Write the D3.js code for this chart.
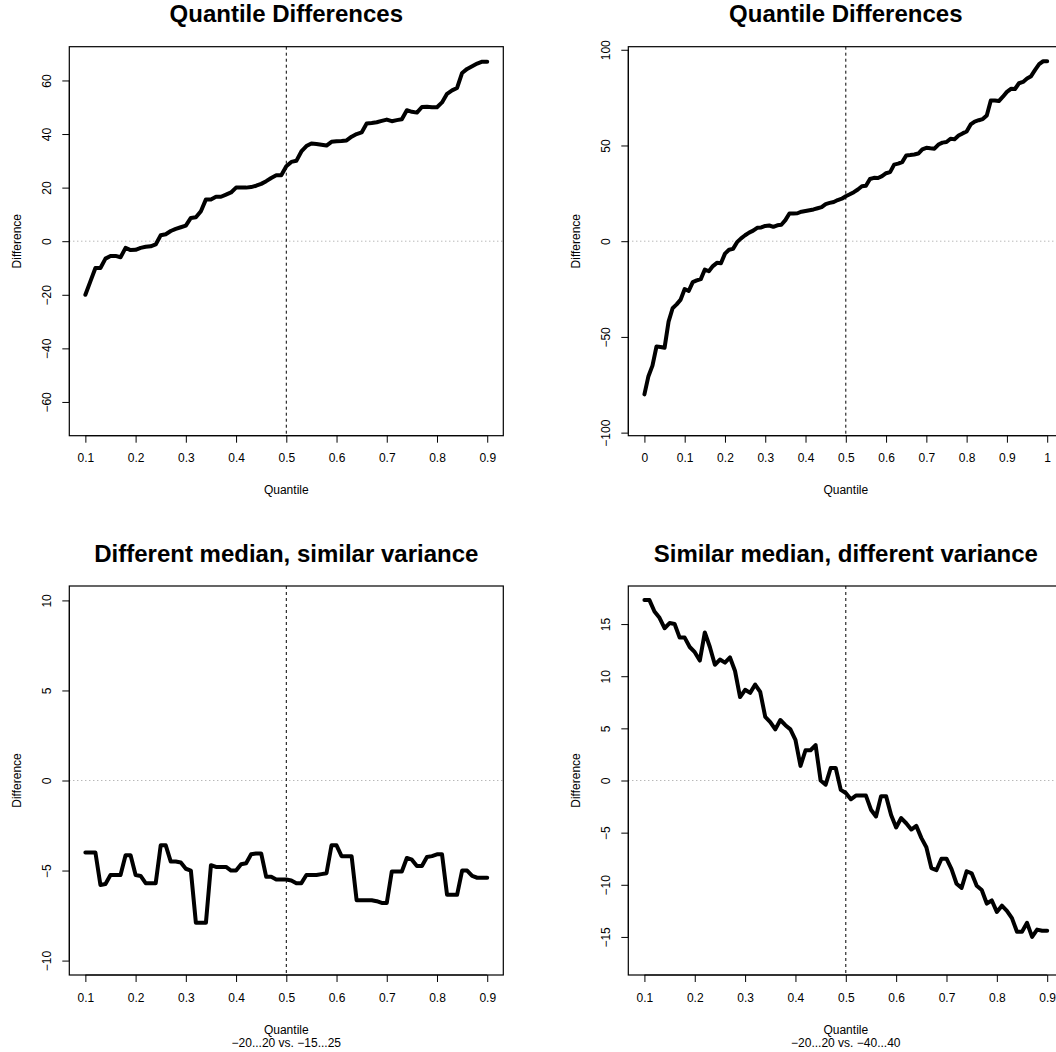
<!DOCTYPE html>
<html>
<head>
<meta charset="utf-8">
<script src="https://cdn.jsdelivr.net/npm/d3@7"></script>
<style>
  html, body { margin: 0; padding: 0; background: #fff; }
  svg { display: block; font-family: "Liberation Sans", Arial, Helvetica, sans-serif; }
</style>
</head>
<body>
<svg id="chart" width="1056" height="1052"></svg>
<script>
// ---------------- DATA ----------------
const quantilesA = [0.10,0.11,0.12,0.13,0.14,0.15,0.16,0.17,0.18,0.19,
  0.20,0.21,0.22,0.23,0.24,0.25,0.26,0.27,0.28,0.29,
  0.30,0.31,0.32,0.33,0.34,0.35,0.36,0.37,0.38,0.39,
  0.40,0.41,0.42,0.43,0.44,0.45,0.46,0.47,0.48,0.49,
  0.50,0.51,0.52,0.53,0.54,0.55,0.56,0.57,0.58,0.59,
  0.60,0.61,0.62,0.63,0.64,0.65,0.66,0.67,0.68,0.69,
  0.70,0.71,0.72,0.73,0.74,0.75,0.76,0.77,0.78,0.79,
  0.80,0.81,0.82,0.83,0.84,0.85,0.86,0.87,0.88,0.89,0.90];

const quantilesB = [0.00,0.01,0.02,0.03,0.04,0.05,0.06,0.07,0.08,0.09,
  0.10,0.11,0.12,0.13,0.14,0.15,0.16,0.17,0.18,0.19,
  0.20,0.21,0.22,0.23,0.24,0.25,0.26,0.27,0.28,0.29,
  0.30,0.31,0.32,0.33,0.34,0.35,0.36,0.37,0.38,0.39,
  0.40,0.41,0.42,0.43,0.44,0.45,0.46,0.47,0.48,0.49,
  0.50,0.51,0.52,0.53,0.54,0.55,0.56,0.57,0.58,0.59,
  0.60,0.61,0.62,0.63,0.64,0.65,0.66,0.67,0.68,0.69,
  0.70,0.71,0.72,0.73,0.74,0.75,0.76,0.77,0.78,0.79,
  0.80,0.81,0.82,0.83,0.84,0.85,0.86,0.87,0.88,0.89,
  0.90,0.91,0.92,0.93,0.94,0.95,0.96,0.97,0.98,0.99,1.00];

const diffTopLeft = [-20,-15,-10,-10,-6.5,-5.5,-5.5,-6,-2.5,-3.3,
  -3.2,-2.5,-2.1,-1.9,-1.2,2.2,2.6,3.8,4.6,5.2,
  5.8,8.7,8.9,11.2,15.6,15.6,16.6,16.6,17.4,18.2,
  20,20,20,20.2,20.7,21.4,22.4,23.6,24.6,24.6,
  28,29.6,30,33.5,35.5,36.5,36.3,36,35.7,37.1,
  37.3,37.4,37.6,39,40,40.6,43.9,44.1,44.4,44.9,
  45.4,44.8,45.2,45.5,48.9,48.3,48,50.1,50.2,50,
  50,51.8,55,56.3,57.2,62.8,64.3,65.3,66.3,67,67];

const diffTopRight = [-80,-70.5,-65,-55,-55.3,-55.7,-42,-35,-33,-30.5,
  -25,-26,-21.4,-20.5,-19.8,-14.8,-15.7,-13,-11.3,-11.5,
  -6.5,-4.5,-4,-0.5,1.5,3.1,4.5,5.5,7,7.2,
  8,8.2,7.5,8.3,8.6,11,14.5,14.5,14.6,15.4,
  15.8,16.2,16.6,17.2,17.8,19.4,20,20.5,21.5,22.2,
  23.5,24.5,25.6,27,28.7,29,32.5,33.1,33,34,
  35.5,36.1,40,40.5,41.3,44.8,45,45.3,45.8,48,
  48.8,48.5,48.3,50.5,51.5,51.8,53.5,53.3,55.2,56.3,
  57.3,61,62.5,63.2,63.8,65.7,73.5,73.5,73.2,75.5,
  78,79.6,79.5,82.5,83.2,85,86.2,89.5,92.5,94,94];

const diffBottomLeft = [-4,-4,-4,-5.8,-5.75,-5.25,-5.25,-5.25,-4.15,-4.15,
  -5.25,-5.3,-5.7,-5.7,-5.7,-3.6,-3.6,-4.5,-4.5,-4.55,
  -4.9,-5.0,-7.9,-7.9,-7.9,-4.7,-4.8,-4.8,-4.8,-5.0,
  -5.0,-4.65,-4.6,-4.1,-4.05,-4.05,-5.35,-5.35,-5.5,-5.5,
  -5.5,-5.55,-5.7,-5.7,-5.25,-5.25,-5.25,-5.2,-5.15,-3.6,
  -3.6,-4.2,-4.2,-4.2,-6.65,-6.65,-6.65,-6.65,-6.7,-6.8,
  -6.8,-5.05,-5.05,-5.05,-4.3,-4.4,-4.75,-4.75,-4.25,-4.2,
  -4.1,-4.1,-6.35,-6.35,-6.35,-5.0,-5.0,-5.3,-5.4,-5.4,-5.4];

const diffBottomRight = [17.3,17.3,16.2,15.6,14.6,15.1,15.0,13.7,13.7,12.8,
  12.3,11.5,14.2,12.8,11.1,11.6,11.3,11.8,10.5,8.0,
  8.7,8.4,9.2,8.5,6.1,5.6,4.9,5.8,5.3,4.9,
  3.9,1.4,2.9,2.9,3.4,0.0,-0.4,1.2,1.2,-0.9,
  -1.2,-1.8,-1.45,-1.45,-1.45,-2.8,-3.45,-1.5,-1.5,-3.3,
  -4.5,-3.6,-4.1,-4.7,-4.35,-5.5,-6.4,-8.4,-8.6,-7.5,
  -7.5,-8.5,-9.9,-10.3,-8.7,-8.9,-10.1,-10.5,-11.8,-11.5,
  -12.6,-12.0,-12.5,-13.2,-14.5,-14.5,-13.65,-15.0,-14.3,-14.4,-14.4];

const xTicksA = [0.1,0.2,0.3,0.4,0.5,0.6,0.7,0.8,0.9];
const xTickLabelsA = ["0.1","0.2","0.3","0.4","0.5","0.6","0.7","0.8","0.9"];
const xTicksB = [0,0.1,0.2,0.3,0.4,0.5,0.6,0.7,0.8,0.9,1];
const xTickLabelsB = ["0","0.1","0.2","0.3","0.4","0.5","0.6","0.7","0.8","0.9","1"];

const yTicksTopLeft = [-60,-40,-20,0,20,40,60];
const yTicksTopRight = [-100,-50,0,50,100];
const yTicksBottomLeft = [-10,-5,0,5,10];
const yTicksBottomRight = [-15,-10,-5,0,5,10,15];

const titles = ["Quantile Differences","Quantile Differences",
  "Different median, similar variance","Similar median, different variance"];
const subtitles = ["", "", "\u221220...20 vs. \u221215...25", "\u221220...20 vs. \u221240...40"];
const xLabel = "Quantile";
const yLabel = "Difference";

// ---------------- LAYOUT ----------------
const panels = [
  { q: quantilesA, v: diffTopLeft, xd: [0.068,0.932], yd: [-72.6,72.6],
    xt: xTicksA, xl: xTickLabelsA, yt: yTicksTopLeft,
    box: { l: 69.3, r: 503.3, t: 46.7, b: 435.7 }, title: titles[0], sub: subtitles[0] },
  { q: quantilesB, v: diffTopRight, xd: [-0.04,1.04], yd: [-101.6,101.6],
    xt: xTicksB, xl: xTickLabelsB, yt: yTicksTopRight,
    box: { l: 628.3, r: 1063.3, t: 46.7, b: 435.7 }, title: titles[1], sub: subtitles[1] },
  { q: quantilesA, v: diffBottomLeft, xd: [0.068,0.932], yd: [-10.8,10.8],
    xt: xTicksA, xl: xTickLabelsA, yt: yTicksBottomLeft,
    box: { l: 69.3, r: 503.3, t: 586, b: 975 }, title: titles[2], sub: subtitles[2] },
  { q: quantilesA, v: diffBottomRight, xd: [0.068,0.932], yd: [-18.65,18.65],
    xt: xTicksA, xl: xTickLabelsA, yt: yTicksBottomRight,
    box: { l: 628.3, r: 1063.3, t: 586, b: 975 }, title: titles[3], sub: subtitles[3] }
];

const svg = d3.select("#chart");
svg.append("rect").attr("width",1056).attr("height",1052).attr("fill","#fff");

const fmtMinus = s => String(s).replace("-", "\u2212");

panels.forEach(p => {
  const b = p.box;
  const x = d3.scaleLinear().domain(p.xd).range([b.l, b.r]);
  const y = d3.scaleLinear().domain(p.yd).range([b.b, b.t]);
  const g = svg.append("g");
  const cx = (b.l + b.r) / 2, cy = (b.t + b.b) / 2;

  // reference lines
  g.append("line")
    .attr("x1", b.l).attr("x2", b.r).attr("y1", y(0)).attr("y2", y(0))
    .attr("stroke", "#9a9a9a").attr("stroke-width", 1).attr("stroke-dasharray", "1,3");
  g.append("line")
    .attr("x1", x(0.5)).attr("x2", x(0.5)).attr("y1", b.t).attr("y2", b.b)
    .attr("stroke", "#000").attr("stroke-width", 1).attr("stroke-dasharray", "3,3");

  // data line
  const line = d3.line().x((d, i) => x(p.q[i])).y(d => y(d));
  g.append("path").datum(p.v)
    .attr("d", line).attr("fill", "none").attr("stroke", "#000")
    .attr("stroke-width", 4).attr("stroke-linejoin", "round").attr("stroke-linecap", "round");

  // box
  g.append("rect").attr("x", b.l).attr("y", b.t)
    .attr("width", b.r - b.l).attr("height", b.b - b.t)
    .attr("fill", "none").attr("stroke", "#000").attr("stroke-width", 1.2);

  // x axis
  const xa = g.append("g").attr("transform", `translate(0,${b.b})`)
    .call(d3.axisBottom(x).tickValues(p.xt).tickFormat((d, i) => p.xl[i])
      .tickSize(7).tickSizeOuter(0).tickPadding(11));
  xa.select(".domain").attr("d", `M${x(p.xt[0])},0H${x(p.xt[p.xt.length-1])}`).attr("stroke","#000");
  xa.selectAll(".tick line").attr("stroke", "#000");
  xa.selectAll("text").attr("font-size", 12).attr("fill", "#000")
    .attr("font-family", "Liberation Sans, Arial, sans-serif");

  // y axis
  const ya = g.append("g").attr("transform", `translate(${b.l},0)`)
    .call(d3.axisLeft(y).tickValues(p.yt).tickFormat(d => fmtMinus(d))
      .tickSize(7).tickSizeOuter(0));
  ya.select(".domain").attr("d", `M0,${y(p.yt[0])}V${y(p.yt[p.yt.length-1])}`).attr("stroke","#000");
  ya.selectAll(".tick line").attr("stroke", "#000");
  ya.selectAll("text")
    .attr("x", null).attr("y", null).attr("dy", "0.35em")
    .attr("text-anchor", "middle")
    .attr("transform", "translate(-22.8,0) rotate(-90)")
    .attr("font-size", 12).attr("fill", "#000")
    .attr("font-family", "Liberation Sans, Arial, sans-serif");

  // title
  g.append("text").attr("x", cx).attr("y", b.t - 24.5)
    .attr("text-anchor", "middle").attr("font-size", 24).attr("font-weight", "bold")
    .text(p.title);

  // x label
  g.append("text").attr("x", cx).attr("y", b.b + 58.5)
    .attr("text-anchor", "middle").attr("font-size", 12).text(xLabel);
  if (p.sub) {
    g.append("text").attr("x", cx).attr("y", b.b + 72)
      .attr("text-anchor", "middle").attr("font-size", 12).text(p.sub);
  }

  // y label
  g.append("text").attr("transform", `translate(${b.l - 52.3},${cy}) rotate(-90)`)
    .attr("dy", "0.35em").attr("text-anchor", "middle").attr("font-size", 12).text(yLabel);
});
</script>
</body>
</html>
